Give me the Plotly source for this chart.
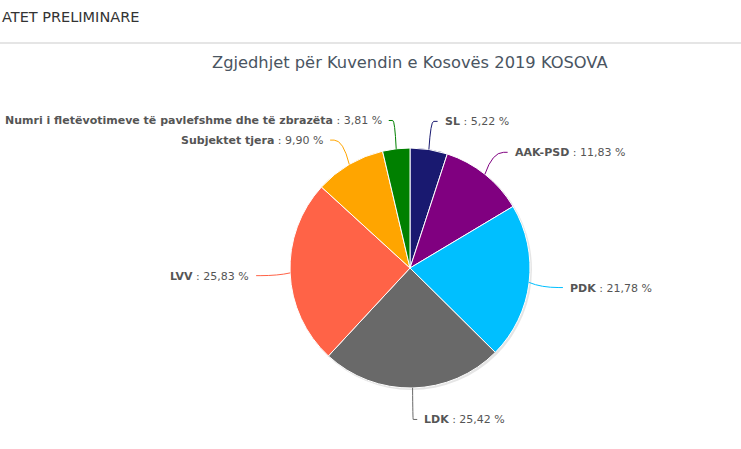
import math
import plotly.graph_objects as go

W, H = 741, 449

parties = ["SL", "AAK-PSD", "PDK", "LDK", "LVV", "Subjektet tjera",
           "Numri i fletëvotimeve të pavlefshme dhe të zbrazëta"]
percent = [5.22, 11.83, 21.78, 25.42, 25.83, 9.90, 3.81]
percent_text = ["5,22", "11,83", "21,78", "25,42", "25,83", "9,90", "3,81"]
colors = ["#191970", "#800080", "#00bfff", "#696969", "#ff6347", "#ffa500", "#008000"]

# pie geometry in pixels
cx, cy, r = 410, 268, 120
dist = 30


def px(x):
    return x / W


def py(y):
    return 1 - y / H


fig = go.Figure()

fig.add_trace(go.Pie(
    labels=parties, values=percent, sort=False, direction="clockwise", rotation=0,
    marker=dict(colors=colors, line=dict(color="white", width=1)),
    textinfo="none", hoverinfo="label+value", showlegend=False,
    domain=dict(x=[px(cx - r), px(cx + r)], y=[py(cy + r), py(cy - r)]),
))

shapes = []
annotations = []

# soft shadow behind the pie
shapes.append(dict(type="circle", xref="paper", yref="paper", layer="below",
                   x0=px(cx - r + 1), x1=px(cx + r + 2), y0=py(cy + r + 2), y1=py(cy - r + 1),
                   fillcolor="rgba(0,0,0,0.10)", line=dict(width=0)))

total = sum(percent)
cum = 0
for name, val, txt, col in zip(parties, percent, percent_text, colors):
    mid = (cum + val / 2) / total * 2 * math.pi
    cum += val
    s, c = math.sin(mid), math.cos(mid)
    sign = 1 if s >= 0 else -1
    ex, ey = cx + r * s, cy - r * c
    mx = cx + (r + 12) * s
    lx, ly = cx + (r + dist) * s, cy - (r + dist) * c + 1.5
    path = "M {} {} Q {} {} {} {} L {} {}".format(px(ex), py(ey), px(mx), py(ly),
                                                  px(lx), py(ly), px(lx + 4 * sign), py(ly))
    shapes.append(dict(type="path", xref="paper", yref="paper", path=path,
                       line=dict(color=col, width=1)))
    annotations.append(dict(
        x=px(lx + 9 * sign), y=py(ly + 0.5), xref="paper", yref="paper",
        xanchor="left" if sign > 0 else "right", yanchor="middle", showarrow=False,
        text="<b>{}</b> : {} %".format(name, txt),
        font=dict(family="DejaVu Sans, Verdana, sans-serif", size=11, color="#555555"),
    ))

# page header and separator
annotations.append(dict(x=0, y=py(17), xref="paper", yref="paper", xanchor="left",
                        yanchor="middle", showarrow=False, text="ATET PRELIMINARE",
                        font=dict(family="DejaVu Sans, Verdana, sans-serif", size=14.5, color="#333333")))
shapes.append(dict(type="line", xref="paper", yref="paper", x0=0, x1=1, y0=py(43), y1=py(43),
                   line=dict(color="#dddddd", width=1.5)))

annotations.append(dict(x=px(410), y=py(63), xref="paper", yref="paper", xanchor="center",
                        yanchor="middle", showarrow=False,
                        text="Zgjedhjet për Kuvendin e Kosovës 2019 KOSOVA",
                        font=dict(family="DejaVu Sans, Verdana, sans-serif", size=16.3, color="#4a5562")))

fig.update_layout(width=W, height=H, margin=dict(l=0, r=0, t=0, b=0),
                  paper_bgcolor="white", plot_bgcolor="white",
                  shapes=shapes, annotations=annotations)

fig.write_html("out.html", config={"displayModeBar": False},
               post_script="document.body.style.margin='0';")
